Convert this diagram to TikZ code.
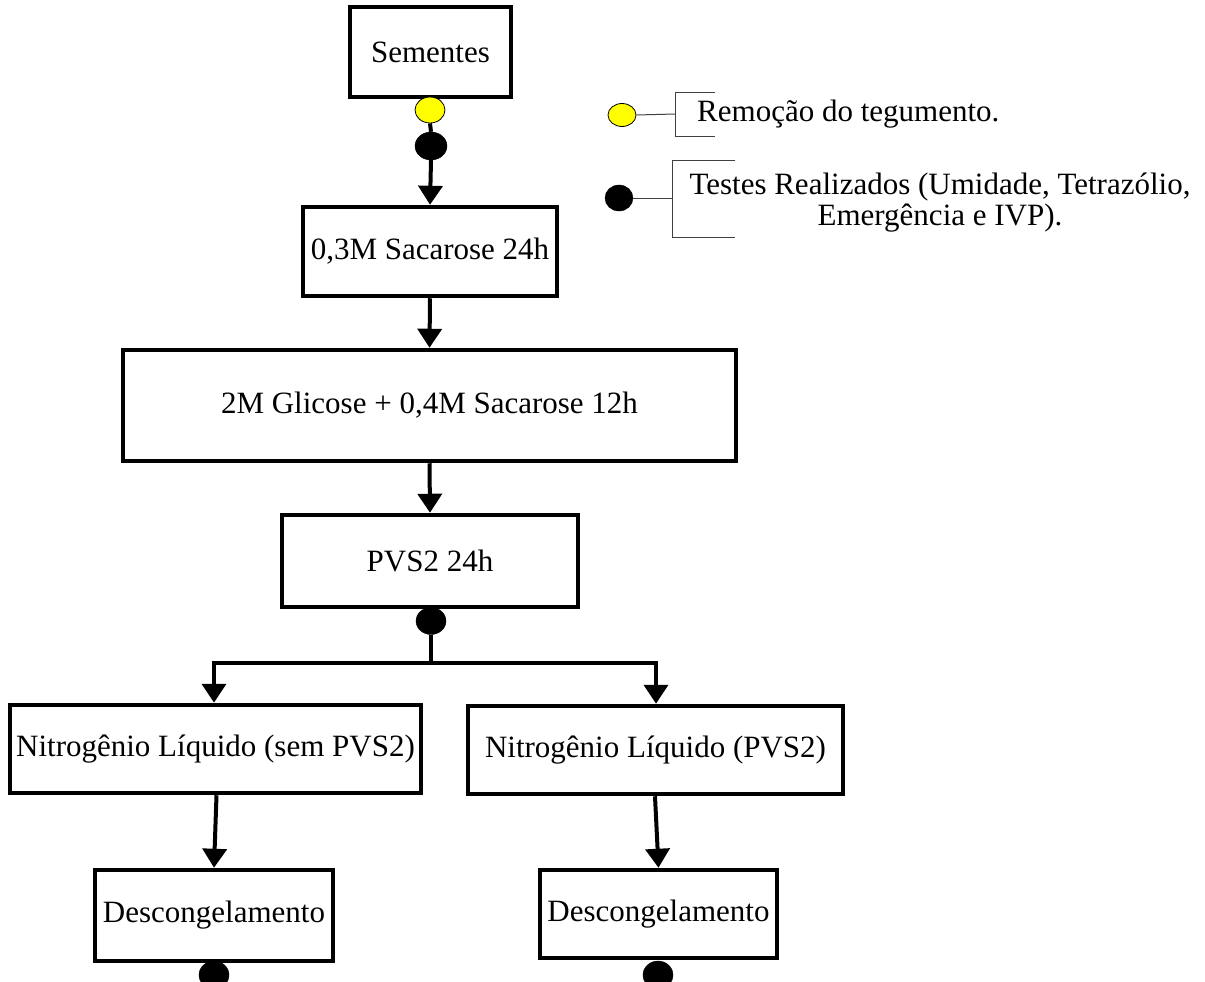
\documentclass[tikz,border=0pt]{standalone}
\usepackage{fontspec}
\setmainfont{Liberation Serif}
\usetikzlibrary{arrows.meta,shapes.geometric}
\definecolor{dotyellow}{RGB}{255,255,0}
\tikzset{
  stepbox/.style={draw=black, line width=4.5pt, rectangle, inner sep=0pt, fill=white,
    font=\fontsize{31}{33}\selectfont},
  flow/.style={line width=4pt, -{Triangle[width=24pt,length=19pt]}},
  plainflow/.style={line width=4pt},
  markyellow/.style={ellipse, draw=black, line width=0.8pt, fill=dotyellow, inner sep=0pt},
  markblack/.style={ellipse, draw=black, fill=black, inner sep=0pt},
  legendline/.style={line width=1pt, draw=black!75},
  legendtext/.style={font=\fontsize{31}{31}\selectfont, inner sep=0pt}
}
\begin{document}
\begin{tikzpicture}[x=1pt,y=-1pt]
\useasboundingbox (0,0) rectangle (1205,982);

% main column
\node[stepbox, minimum width=161pt, minimum height=90pt] (seed) at (430.5,52) {Sementes};
\node[markyellow, minimum width=30pt, minimum height=26pt] (ytop) at (430,110) {};
\node[markblack, minimum width=32pt, minimum height=28pt] (btop) at (431,146) {};
\node[stepbox, minimum width=254pt, minimum height=89pt] (sac) at (430,251.5) {0,3M Sacarose 24h};
\node[stepbox, minimum width=613pt, minimum height=111pt] (glic) at (429.5,405.5) {2M Glicose + 0,4M Sacarose 12h};
\node[stepbox, minimum width=296pt, minimum height=92pt] (pvs) at (430,561) {PVS2 24h};
\node[markblack, minimum width=30pt, minimum height=27pt] (bpvs) at (431,621) {};
\coordinate (split) at (431,663);
\coordinate (splitL) at (214,663);
\coordinate (splitR) at (656,663);

% two branches
\node[stepbox, minimum width=411pt, minimum height=88pt] (nlA) at (215.5,749) {Nitrogênio Líquido (sem PVS2)};
\node[stepbox, minimum width=375pt, minimum height=88pt] (nlB) at (655.5,750) {Nitrogênio Líquido (PVS2)};
\node[stepbox, minimum width=238pt, minimum height=91pt] (thA) at (214,915.5) {Descongelamento};
\node[stepbox, minimum width=237pt, minimum height=88pt] (thB) at (658.5,914) {Descongelamento};
\node[markblack, minimum width=30pt, minimum height=28pt] (bA) at (214,975) {};
\node[markblack, minimum width=30pt, minimum height=28pt] (bB) at (658,975) {};

% connectors
\draw[plainflow] (ytop.south) -- (btop.north);
\draw[flow] (btop.south) -- (sac.north);
\draw[flow] (sac.south) -- (glic.north);
\draw[flow] (glic.south) -- (pvs.north);
\draw[plainflow] (bpvs.south) -- (split);
\draw[plainflow, line cap=rect] (splitL) -- (splitR);
\draw[flow] (splitL) -- (nlA.north -| splitL);
\draw[flow] (splitR) -- (nlB.north -| splitR);
\draw[flow] ([xshift=1pt]nlA.south) -- (thA.north);
\draw[flow] ([xshift=-0.5pt]nlB.south) -- (thB.north);

% legend
\node[markyellow, minimum width=28pt, minimum height=23pt] (ly) at (622,115) {};
\coordinate (lyb) at (675,114);
\draw[legendline] (ly.east) -- (lyb);
\draw[legendline] (715,92) -- (675,92) -- (675,136) -- (715,136);
\node[legendtext, anchor=west] (lyt) at (697,114) {Remoção do tegumento.};

\node[markblack, minimum width=28pt, minimum height=26pt] (lb) at (619,198) {};
\coordinate (lbb) at (672,198);
\draw[legendline] (lb.east) -- (lbb);
\draw[legendline] (735,160) -- (672,160) -- (672,237) -- (735,237);
\node[legendtext, align=center] (lbt) at (940,203) {Testes Realizados (Umidade, Tetrazólio,\\Emergência e IVP).};
\end{tikzpicture}
\end{document}
